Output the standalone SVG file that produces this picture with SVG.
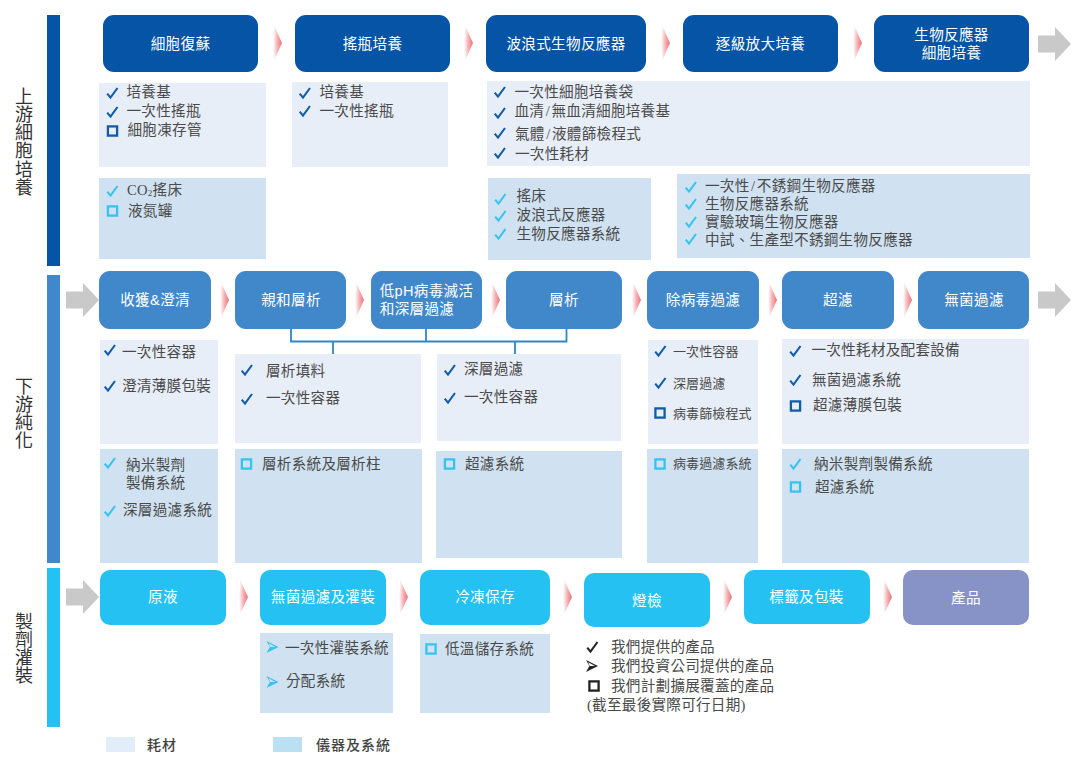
<svg xmlns="http://www.w3.org/2000/svg" width="1080" height="761" viewBox="0 0 1080 761">
<style>
text{font-family:"Liberation Serif","Noto Sans CJK TC",serif;font-size:14.6px;fill:#4a4a4a;dominant-baseline:central;letter-spacing:.25px}
.n text{font-family:"Liberation Sans","Noto Sans CJK TC",sans-serif;fill:#fff;text-anchor:middle;letter-spacing:.3px}
text.sm{font-size:13px;letter-spacing:.1px}
text.side{font-family:"Noto Sans CJK TC",sans-serif;font-size:18px;fill:#333;writing-mode:vertical-rl;letter-spacing:.2px;dominant-baseline:auto}
text.leg{font-family:"Noto Sans CJK TC",sans-serif;font-size:14px;fill:#444;font-weight:500;letter-spacing:1px}
.l{fill:#e8eef8}.d{fill:#d0e2f1}
.up rect{fill:#0554a5}.down rect{fill:#4088c9}.fill rect{fill:#25c1f3}
.cv{fill:url(#pink)}.ga{fill:#c9c9c9}
.br{fill:none;stroke:#2f86c7;stroke-width:1.8}
.ck{fill:none;stroke-width:2.1;stroke-linejoin:miter}
.sq{fill:none;stroke-width:2.3}
.b{stroke:#0f5ca8}.c{stroke:#35c3f3}.k{stroke:#222}
.af{fill:#35c3f3}.ak{fill:#222}
</style>
<defs>
<radialGradient id="pink" cx="1" cy=".5" r="1"><stop offset="0" stop-color="#ec6f76"/><stop offset=".55" stop-color="#f6b5b8"/><stop offset="1" stop-color="#fff"/></radialGradient>
<path id="ck" d="M-5.3 .6 L-2 4.6 L5 -5"/>
<rect id="sq" x="-4.6" y="-4.6" width="9.2" height="9.2"/>
<path id="ar" d="M-6 -6 L6 0 L-6 6 L-2.600 0 Z M-3.800 -3.800 L3 0 L-2.200 0 Z" fill-rule="evenodd"/>
<polygon id="cv" points="0,-20 9,0 0,20 0,0"/>
<polygon id="gr" points="-16,-8.500 1,-8.500 1,-17 17,0 1,17 1,8.500 -16,8.500"/>
</defs>

<g id="stage-bars">
<rect x="47" y="15" width="13" height="251" fill="#0554a5"/>
<rect x="47" y="275" width="13" height="288" fill="#4088c9"/>
<rect x="47" y="568" width="13" height="159" fill="#25c1f3"/>
<text class="side" x="24" y="87">上游細胞培養</text>
<text class="side" x="24" y="377">下游純化</text>
<text class="side" x="24" y="612">製劑灌裝</text>
</g>

<g id="connectors">
<path class="br" d="M291 329V341.500H566.500V329M426 329V341.500M333 341.500V354M515 341.500V354"/>
<use href="#cv" class="cv" x="273" y="43"/><use href="#cv" class="cv" x="464" y="43"/><use href="#cv" class="cv" x="661" y="43"/><use href="#cv" class="cv" x="853" y="43"/>
<use href="#cv" class="cv" x="220" y="300"/><use href="#cv" class="cv" x="355" y="300"/><use href="#cv" class="cv" x="491" y="300"/><use href="#cv" class="cv" x="632" y="300"/><use href="#cv" class="cv" x="768" y="300"/><use href="#cv" class="cv" x="903" y="300"/>
<use href="#cv" class="cv" x="239" y="597"/><use href="#cv" class="cv" x="399" y="597"/><use href="#cv" class="cv" x="563" y="597"/><use href="#cv" class="cv" x="723" y="597"/><use href="#cv" class="cv" x="883" y="597"/>
<use href="#gr" class="ga" x="1054" y="44"/><use href="#gr" class="ga" x="82" y="300"/><use href="#gr" class="ga" x="1054" y="300"/><use href="#gr" class="ga" x="82" y="597"/>
</g>

<g class="n up">
<g id="n-cell-recovery"><rect x="103" y="15" width="155" height="57" rx="11"/><text x="180.500" y="44">細胞復蘇</text></g>
<g id="n-shake-flask"><rect x="295" y="15" width="155" height="57" rx="11"/><text x="372.500" y="44">搖瓶培養</text></g>
<g id="n-wave"><rect x="486" y="15" width="160" height="57" rx="11"/><text x="566" y="43.500">波浪式生物反應器</text></g>
<g id="n-scale-up"><rect x="683" y="15" width="155" height="57" rx="11"/><text x="760.500" y="43.500">逐級放大培養</text></g>
<g id="n-bioreactor"><rect x="874" y="15" width="155" height="57" rx="11"/><text x="951.500" y="35">生物反應器</text><text x="951.500" y="52.500">細胞培養</text></g>
</g>
<g class="n down">
<g id="n-harvest"><rect x="99" y="271" width="112" height="58" rx="11"/><text x="155" y="300">收獲&amp;澄清</text></g>
<g id="n-affinity"><rect x="235" y="271" width="111" height="58" rx="11"/><text x="291" y="300">親和層析</text></g>
<g id="n-lowph"><rect x="371" y="271" width="111" height="58" rx="11"/><text x="426.500" y="291">低pH病毒滅活</text><text x="417" y="309">和深層過濾</text></g>
<g id="n-chrom"><rect x="506" y="271" width="116" height="58" rx="11"/><text x="564" y="300">層析</text></g>
<g id="n-virus"><rect x="647" y="271" width="112" height="58" rx="11"/><text x="703" y="300">除病毒過濾</text></g>
<g id="n-uf"><rect x="782" y="271" width="112" height="58" rx="11"/><text x="838" y="300">超濾</text></g>
<g id="n-sterile"><rect x="918" y="271" width="111" height="58" rx="11"/><text x="974" y="300">無菌過濾</text></g>
</g>
<g class="n fill">
<g id="n-bulk"><rect x="100" y="570" width="126" height="55" rx="10"/><text x="163" y="597">原液</text></g>
<g id="n-fill"><rect x="260" y="570" width="126" height="55" rx="10"/><text x="323" y="597">無菌過濾及灌裝</text></g>
<g id="n-freeze"><rect x="420" y="570" width="130" height="55" rx="10"/><text x="485" y="597">冷凍保存</text></g>
<g id="n-inspect"><rect x="584" y="573" width="126" height="54" rx="10"/><text x="647" y="601">燈檢</text></g>
<g id="n-label"><rect x="744" y="570" width="126" height="54" rx="10"/><text x="806.500" y="597">標籤及包裝</text></g>
<g id="n-product"><rect x="903" y="570" width="126" height="55" rx="10" style="fill:#8793c6"/><text x="966" y="598">產品</text></g>
</g>

<g id="p-up-1"><rect class="l" x="99" y="83" width="167" height="84"/><rect class="d" x="99" y="178" width="167" height="81"/>
<use href="#ck" class="ck b" x="112.500" y="93"/><text x="126.500" y="92">培養基</text>
<use href="#ck" class="ck b" x="112.500" y="112"/><text x="126.500" y="111">一次性搖瓶</text>
<use href="#sq" class="sq b" x="112.500" y="131"/><text x="127.500" y="130">細胞凍存管</text>
<use href="#ck" class="ck c" x="112.500" y="191"/><text x="127" y="190">CO<tspan dy="3" font-size="9">2</tspan><tspan dy="-3">搖床</tspan></text>
<use href="#sq" class="sq c" x="112.500" y="211"/><text x="128" y="211">液氮罐</text></g>

<g id="p-up-2"><rect class="l" x="292" y="82" width="156" height="85"/>
<use href="#ck" class="ck b" x="305" y="93"/><text x="319.500" y="92">培養基</text>
<use href="#ck" class="ck b" x="305" y="111"/><text x="319.500" y="111">一次性搖瓶</text></g>

<g id="p-up-3"><rect class="l" x="487" y="81" width="543" height="85"/>
<use href="#ck" class="ck b" x="500" y="92"/><text x="514.500" y="92">一次性細胞培養袋</text>
<use href="#ck" class="ck b" x="500" y="113"/><text x="514.500" y="111">血清<tspan dx="1.500">/</tspan><tspan dx="1.500">無血清細胞培養基</tspan></text>
<use href="#ck" class="ck b" x="500" y="133"/><text x="515" y="134">氣體<tspan dx="1.500">/</tspan><tspan dx="1.500">液體篩檢程式</tspan></text>
<use href="#ck" class="ck b" x="500" y="153"/><text x="515" y="154">一次性耗材</text></g>

<g id="p-up-4"><rect class="d" x="488" y="178" width="163" height="82"/>
<use href="#ck" class="ck c" x="500.500" y="199"/><text x="516.500" y="196">搖床</text>
<use href="#ck" class="ck c" x="500.500" y="216"/><text x="516.500" y="215">波浪式反應器</text>
<use href="#ck" class="ck c" x="500.500" y="234"/><text x="516.500" y="234">生物反應器系統</text></g>

<g id="p-up-5"><rect class="d" x="677" y="174" width="353" height="84"/>
<use href="#ck" class="ck c" x="691" y="187"/><text x="705" y="186">一次性<tspan dx="1.500">/</tspan><tspan dx="1.500">不銹鋼生物反應器</tspan></text>
<use href="#ck" class="ck c" x="691" y="204"/><text x="705" y="204">生物反應器系統</text>
<use href="#ck" class="ck c" x="691" y="222"/><text x="705" y="222">實驗玻璃生物反應器</text>
<use href="#ck" class="ck c" x="691" y="239"/><text x="705" y="240">中試、生產型不銹鋼生物反應器</text></g>

<g id="p-down-1"><rect class="l" x="100" y="340" width="118" height="104"/><rect class="d" x="100" y="449" width="118" height="114"/>
<use href="#ck" class="ck b" x="110" y="350"/><text x="122" y="352">一次性容器</text>
<use href="#ck" class="ck b" x="110" y="386"/><text x="122" y="386">澄清薄膜包裝</text>
<use href="#ck" class="ck c" x="110" y="463"/><text x="126" y="465">納米製劑</text><text x="126" y="483">製備系統</text>
<use href="#ck" class="ck c" x="110" y="511"/><text x="123" y="510">深層過濾系統</text></g>

<g id="p-down-2"><rect class="l" x="235" y="354" width="186" height="89"/><rect class="d" x="235" y="449" width="187" height="114"/>
<use href="#ck" class="ck b" x="247" y="370"/><text x="266" y="371">層析填料</text>
<use href="#ck" class="ck b" x="247" y="399"/><text x="266" y="398">一次性容器</text>
<use href="#sq" class="sq c" x="246.500" y="464"/><text x="262" y="464">層析系統及層析柱</text></g>

<g id="p-down-3"><rect class="l" x="437" y="354" width="184" height="87"/><rect class="d" x="436" y="451" width="186" height="107"/>
<use href="#ck" class="ck b" x="450" y="370"/><text x="464" y="369">深層過濾</text>
<use href="#ck" class="ck b" x="450" y="398"/><text x="464" y="397">一次性容器</text>
<use href="#sq" class="sq c" x="449.500" y="464"/><text x="465" y="464">超濾系統</text></g>

<g id="p-down-4"><rect class="l" x="648" y="340" width="110" height="104"/><rect class="d" x="647" y="449" width="111" height="114"/>
<use href="#ck" class="ck b" x="660.500" y="351"/><text class="sm" x="673" y="351">一次性容器</text>
<use href="#ck" class="ck b" x="660.500" y="383"/><text class="sm" x="673" y="383">深層過濾</text>
<use href="#sq" class="sq b" x="660" y="413"/><text class="sm" x="673" y="413">病毒篩檢程式</text>
<use href="#sq" class="sq c" x="660" y="464"/><text class="sm" x="673" y="463">病毒過濾系統</text></g>

<g id="p-down-5"><rect class="l" x="782" y="339" width="247" height="105"/><rect class="d" x="782" y="449" width="247" height="114"/>
<use href="#ck" class="ck b" x="795.500" y="351"/><text x="811.500" y="350">一次性耗材及配套設備</text>
<use href="#ck" class="ck b" x="795.500" y="380"/><text x="812" y="380">無菌過濾系統</text>
<use href="#sq" class="sq b" x="795.500" y="406"/><text x="813" y="405">超濾薄膜包裝</text>
<use href="#ck" class="ck c" x="795.500" y="464"/><text x="814" y="464">納米製劑製備系統</text>
<use href="#sq" class="sq c" x="795.500" y="487"/><text x="815" y="487">超濾系統</text></g>

<g id="p-fill-1"><rect class="d" x="260" y="633" width="133" height="80"/>
<use href="#ar" class="af" x="272.500" y="647"/><text x="285" y="648">一次性灌裝系統</text>
<use href="#ar" class="af" x="272.500" y="682"/><text x="286" y="681">分配系統</text></g>
<g id="p-fill-2"><rect class="d" x="420" y="634" width="130" height="79"/>
<use href="#sq" class="sq c" x="431" y="649"/><text x="445" y="649">低溫儲存系統</text></g>

<g id="key-marks">
<use href="#ck" class="ck k" x="592.500" y="647"/><text x="611" y="647">我們提供的產品</text>
<use href="#ar" class="ak" x="592" y="666"/><text x="611" y="666">我們投資公司提供的產品</text>
<use href="#sq" class="sq k" x="594" y="686"/><text x="611" y="686">我們計劃擴展覆蓋的產品</text>
<text x="587" y="705">(截至最後實際可行日期)</text>
</g>
<g id="legend">
<rect x="106" y="737" width="29" height="15" fill="#e1edf8"/><text class="leg" x="147" y="743.500">耗材</text>
<rect x="273" y="737" width="29" height="15" fill="#b9e1f1"/><text class="leg" x="316" y="743.500">儀器及系統</text>
</g>
</svg>
